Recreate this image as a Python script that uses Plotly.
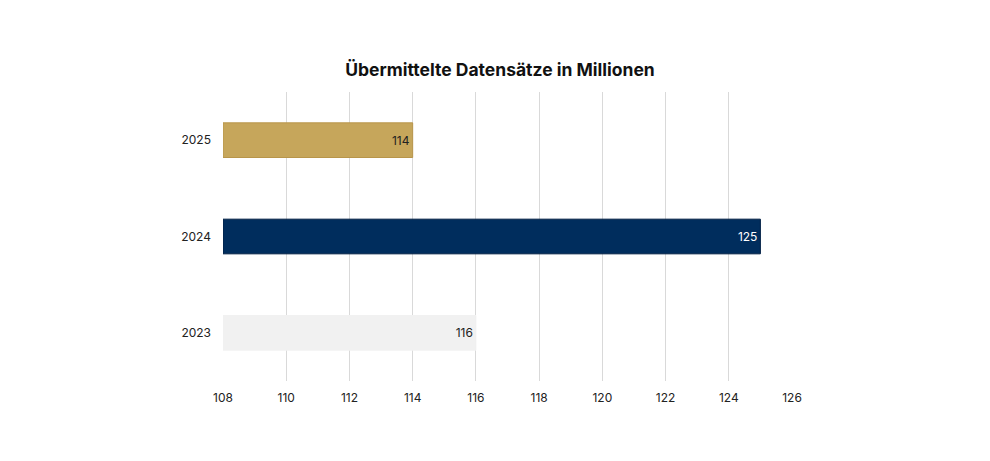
import plotly.graph_objects as go

years = ["2023", "2024", "2025"]
values = [116, 125, 114]
axis_start = 108
bar_colors = ["#F1F1F1", "#002D5D", "#C6A65B"]
line_colors = ["#F1F1F1", "#001F44", "#B8954A"]
label_colors = ["#222222", "#FFFFFF", "#222222"]
tick_vals = [108, 110, 112, 114, 116, 118, 120, 122, 124, 126]

fig = go.Figure()
fig.add_trace(go.Bar(
    y=years,
    x=[v - axis_start for v in values],
    base=axis_start,
    orientation="h",
    marker=dict(color=bar_colors, line=dict(color=line_colors, width=1)),
    text=[str(v) for v in values],
    textposition="inside",
    insidetextanchor="end",
    textfont=dict(color=label_colors, size=12, family="Inter"),
    hoverinfo="skip",
))

# page body has an 8px margin, so margins are shifted to compensate
fig.update_layout(
    width=990,
    height=461,
    margin=dict(l=215, r=206, t=84, b=88, autoexpand=False),
    paper_bgcolor="white",
    plot_bgcolor="white",
    title=dict(
        text="<b>Übermittelte Datensätze in Millionen</b>",
        x=0.497,
        xanchor="center",
        y=0.866,
        yanchor="middle",
        font=dict(family="Inter", size=17.5, color="#111111"),
    ),
    bargap=0.64,
    showlegend=False,
    font=dict(family="Inter", size=12, color="#222222"),
)
fig.update_xaxes(
    range=[108, 126],
    tickvals=tick_vals,
    showgrid=True,
    gridcolor="#D9D9D9",
    gridwidth=1,
    zeroline=False,
    showline=False,
    ticks="",
    ticklabelstandoff=8,
    automargin=False,
    tickfont=dict(size=12, color="#222222"),
)
fig.update_yaxes(
    showgrid=False,
    ticks="",
    ticklabelstandoff=11,
    automargin=False,
    tickfont=dict(size=12, color="#222222"),
)

fig.write_html("out.html")
